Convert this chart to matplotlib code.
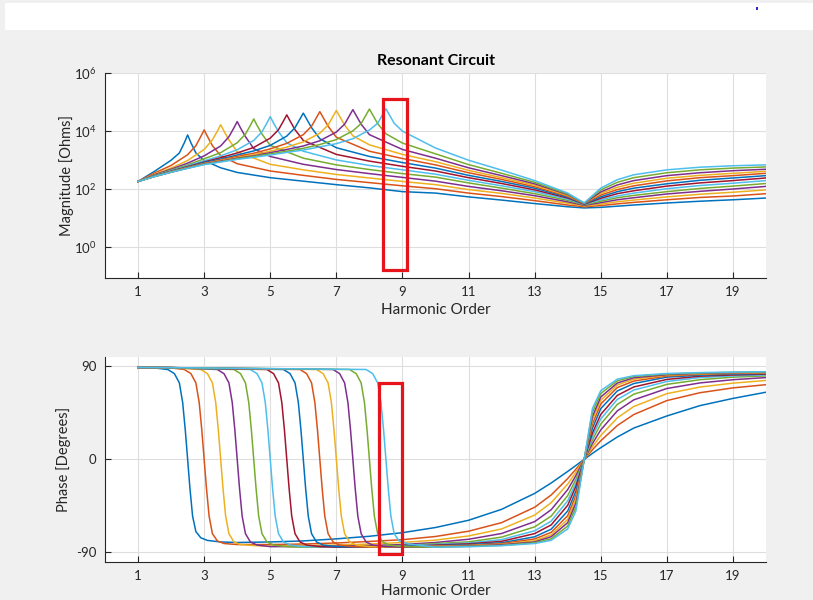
import matplotlib
matplotlib.use("Agg")
import matplotlib.pyplot as plt
from matplotlib.patches import Rectangle

plt.rcParams['font.family'] = ['Lato', 'DejaVu Sans']
plt.rcParams['mathtext.fontset'] = 'custom'
plt.rcParams['mathtext.rm'] = 'Lato'
plt.rcParams['mathtext.it'] = 'Lato:italic'
plt.rcParams['axes.unicode_minus'] = False

# MATLAB default colour order
COLORS = ['#0072BD', '#D95319', '#EDB120', '#7E2F8E', '#77AC30', '#4DBEEE', '#A2142F']

# parallel resonance order of each curve
RES_ORDERS = [2.5, 3.0, 3.5, 4.0, 4.5, 5.0, 5.5, 6.0, 6.5, 7.0, 7.5, 8.0, 8.5]

# ---- magnitude, log10(Ohms) ----
MAG_HEAD_X = [
    [1, 1.5, 2, 2.25, 2.4, 2.5, 2.6, 2.75, 3, 3.5, 4, 5, 6, 7, 8, 9],
    [1, 1.5, 2, 2.5, 2.75, 2.9, 3, 3.1, 3.25, 3.5, 4, 5, 6, 7, 8, 9],
    [1, 1.5, 2, 2.5, 3, 3.25, 3.4, 3.5, 3.6, 3.75, 4, 5, 6, 7, 8, 9],
    [1, 1.5, 2, 2.5, 3, 3.5, 3.75, 3.9, 4, 4.1, 4.25, 4.5, 5, 6, 7, 8, 9],
    [1, 1.5, 2, 2.5, 3, 3.5, 4, 4.25, 4.4, 4.5, 4.6, 4.75, 5, 6, 7, 8, 9],
    [1, 1.5, 2, 2.5, 3, 3.5, 4, 4.5, 4.75, 4.9, 5, 5.1, 5.25, 5.5, 6, 7, 8, 9],
    [1, 1.5, 2, 2.5, 3, 3.5, 4, 4.5, 5, 5.25, 5.4, 5.5, 5.6, 5.75, 6, 7, 8, 9],
    [1, 1.5, 2, 2.5, 3, 3.5, 4, 4.5, 5, 5.5, 5.75, 5.9, 6, 6.1, 6.25, 6.5, 7, 8, 9],
    [1, 1.5, 2, 2.5, 3, 3.5, 4, 4.5, 5, 5.5, 6, 6.25, 6.4, 6.5, 6.6, 6.75, 7, 8, 9],
    [1, 1.5, 2, 2.5, 3, 3.5, 4, 4.5, 5, 5.5, 6, 6.5, 6.75, 6.9, 7, 7.1, 7.25, 7.5, 8, 9],
    [1, 1.5, 2, 2.5, 3, 3.5, 4, 4.5, 5, 5.5, 6, 6.5, 7, 7.25, 7.4, 7.5, 7.6, 7.75, 8, 9],
    [1, 1.5, 2, 2.5, 3, 3.5, 4, 4.5, 5, 5.5, 6, 6.5, 7, 7.5, 7.75, 7.9, 8, 8.1, 8.25, 8.5, 9],
    [1, 1.5, 2, 2.5, 3, 3.5, 4, 4.5, 5, 5.5, 6, 6.5, 7, 7.5, 8, 8.25, 8.4, 8.5, 8.6, 8.75, 9],
]
MAG_HEAD = [
    [2.27, 2.62, 3.00, 3.25, 3.60, 3.87, 3.60, 3.25, 2.99, 2.74, 2.58, 2.40, 2.28, 2.16, 2.05, 1.92],
    [2.27, 2.56, 2.82, 3.19, 3.50, 3.82, 4.04, 3.82, 3.50, 3.16, 2.88, 2.63, 2.48, 2.34, 2.23, 2.12],
    [2.27, 2.52, 2.73, 2.99, 3.37, 3.70, 4.00, 4.22, 4.00, 3.70, 3.29, 2.86, 2.67, 2.51, 2.39, 2.27],
    [2.27, 2.50, 2.69, 2.90, 3.15, 3.49, 3.81, 4.11, 4.33, 4.11, 3.81, 3.40, 3.13, 2.86, 2.68, 2.54, 2.41],
    [2.27, 2.48, 2.66, 2.84, 3.05, 3.26, 3.60, 3.90, 4.20, 4.42, 4.20, 3.90, 3.51, 3.07, 2.84, 2.68, 2.54],
    [2.27, 2.47, 2.64, 2.81, 2.98, 3.15, 3.36, 3.68, 3.98, 4.28, 4.50, 4.28, 3.98, 3.60, 3.31, 3.01, 2.82, 2.67],
    [2.27, 2.46, 2.62, 2.78, 2.94, 3.09, 3.25, 3.44, 3.76, 4.05, 4.35, 4.56, 4.35, 4.05, 3.68, 3.20, 2.97, 2.79],
    [2.27, 2.46, 2.61, 2.76, 2.92, 3.04, 3.18, 3.32, 3.51, 3.83, 4.12, 4.42, 4.62, 4.42, 4.12, 3.74, 3.43, 3.13, 2.92],
    [2.27, 2.45, 2.60, 2.75, 2.89, 3.01, 3.13, 3.24, 3.39, 3.58, 3.88, 4.17, 4.47, 4.67, 4.47, 4.17, 3.79, 3.31, 3.06],
    [2.27, 2.45, 2.60, 2.74, 2.88, 2.99, 3.09, 3.19, 3.31, 3.45, 3.63, 3.93, 4.21, 4.51, 4.71, 4.51, 4.21, 3.84, 3.53, 3.20],
    [2.27, 2.44, 2.59, 2.73, 2.87, 2.97, 3.07, 3.15, 3.26, 3.37, 3.49, 3.67, 3.97, 4.24, 4.54, 4.74, 4.54, 4.24, 3.88, 3.37],
    [2.27, 2.44, 2.59, 2.73, 2.86, 2.95, 3.05, 3.13, 3.22, 3.31, 3.41, 3.54, 3.71, 4.01, 4.26, 4.56, 4.76, 4.56, 4.26, 3.91, 3.59],
    [2.27, 2.44, 2.59, 2.72, 2.85, 2.94, 3.03, 3.10, 3.18, 3.27, 3.35, 3.46, 3.57, 3.74, 4.04, 4.27, 4.57, 4.77, 4.57, 4.27, 4.00],
]
MAG_TAIL_X = [10, 11, 12, 13, 14, 14.5, 15, 15.5, 16, 17, 18, 19, 20]
MAG_TAIL = [
    [1.87, 1.74, 1.63, 1.51, 1.40, 1.36, 1.38, 1.42, 1.46, 1.53, 1.59, 1.64, 1.70],
    [2.02, 1.87, 1.75, 1.61, 1.46, 1.40, 1.44, 1.50, 1.55, 1.64, 1.72, 1.77, 1.85],
    [2.16, 1.99, 1.86, 1.70, 1.52, 1.43, 1.49, 1.57, 1.63, 1.74, 1.83, 1.90, 1.98],
    [2.28, 2.10, 1.95, 1.78, 1.57, 1.45, 1.54, 1.64, 1.71, 1.84, 1.93, 2.01, 2.10],
    [2.42, 2.22, 2.04, 1.85, 1.62, 1.47, 1.59, 1.71, 1.79, 1.92, 2.03, 2.11, 2.20],
    [2.52, 2.31, 2.12, 1.92, 1.66, 1.48, 1.64, 1.77, 1.87, 2.02, 2.13, 2.21, 2.30],
    [2.63, 2.40, 2.20, 1.98, 1.70, 1.49, 1.69, 1.85, 1.95, 2.11, 2.22, 2.30, 2.39],
    [2.73, 2.48, 2.27, 2.04, 1.73, 1.50, 1.74, 1.92, 2.04, 2.19, 2.31, 2.39, 2.47],
    [2.84, 2.57, 2.34, 2.09, 1.76, 1.51, 1.80, 1.99, 2.12, 2.29, 2.40, 2.47, 2.55],
    [2.95, 2.65, 2.40, 2.14, 1.79, 1.52, 1.86, 2.07, 2.21, 2.38, 2.48, 2.55, 2.62],
    [3.07, 2.74, 2.47, 2.19, 1.82, 1.52, 1.91, 2.15, 2.30, 2.47, 2.57, 2.64, 2.69],
    [3.22, 2.85, 2.55, 2.24, 1.84, 1.53, 1.98, 2.24, 2.40, 2.57, 2.67, 2.73, 2.77],
    [3.42, 3.00, 2.66, 2.30, 1.87, 1.53, 2.04, 2.33, 2.50, 2.67, 2.76, 2.81, 2.84],
]

# ---- phase, degrees ----
PH_HEAD_X = [
    [1, 1.5, 1.9, 2.1, 2.25, 2.35, 2.43, 2.5, 2.57, 2.65, 2.75, 2.9, 3.1, 3.5, 4, 5, 6, 7, 8, 9],
    [1, 2, 2.4, 2.6, 2.75, 2.85, 2.93, 3, 3.07, 3.15, 3.25, 3.4, 3.6, 4, 5, 6, 7, 8, 9],
    [1, 2, 2.9, 3.1, 3.25, 3.35, 3.43, 3.5, 3.57, 3.65, 3.75, 3.9, 4.1, 4.5, 5, 6, 7, 8, 9],
    [1, 2, 3.4, 3.6, 3.75, 3.85, 3.93, 4, 4.07, 4.15, 4.25, 4.4, 4.6, 5, 6, 7, 8, 9],
    [1, 2, 3.9, 4.1, 4.25, 4.35, 4.43, 4.5, 4.57, 4.65, 4.75, 4.9, 5.1, 5.5, 6, 7, 8, 9],
    [1, 2, 4.4, 4.6, 4.75, 4.85, 4.93, 5, 5.07, 5.15, 5.25, 5.4, 5.6, 6, 7, 8, 9],
    [1, 2, 4.9, 5.1, 5.25, 5.35, 5.43, 5.5, 5.57, 5.65, 5.75, 5.9, 6.1, 6.5, 7, 8, 9],
    [1, 2, 5.4, 5.6, 5.75, 5.85, 5.93, 6, 6.07, 6.15, 6.25, 6.4, 6.6, 7, 8, 9],
    [1, 2, 5.9, 6.1, 6.25, 6.35, 6.43, 6.5, 6.57, 6.65, 6.75, 6.9, 7.1, 7.5, 8, 9],
    [1, 2, 6.4, 6.6, 6.75, 6.85, 6.93, 7, 7.07, 7.15, 7.25, 7.4, 7.6, 8, 9],
    [1, 2, 6.9, 7.1, 7.25, 7.35, 7.43, 7.5, 7.57, 7.65, 7.75, 7.9, 8.1, 8.5, 9],
    [1, 2, 7.4, 7.6, 7.75, 7.85, 7.93, 8, 8.07, 8.15, 8.25, 8.4, 8.6, 9],
    [1, 2, 7.9, 8.1, 8.25, 8.35, 8.43, 8.5, 8.57, 8.65, 8.75, 8.9, 9.2],
]
PH_HEAD = [
    [89, 88.5, 87, 83, 74, 55, 28, 0, -28, -55, -70, -76, -78.5, -80, -80.5, -80, -79, -77, -74.5, -71],
    [89, 88.5, 87, 83, 74, 55, 28, 0, -28, -55, -72, -79, -81.5, -82.5, -82.5, -82, -81, -79.5, -77.8],
    [89, 88.7, 87, 83, 74, 55, 28, 0, -28, -55, -72, -80, -82.5, -83.5, -84, -83.5, -83, -82, -80.5],
    [89, 88.8, 87, 83, 74, 55, 28, 0, -28, -55, -72, -80, -83, -84.5, -84.5, -84, -83.5, -82.5],
    [89, 88.8, 87, 83, 74, 55, 28, 0, -28, -55, -72, -80, -83, -84.5, -85, -85, -84.5, -83.5],
    [89, 88.8, 87, 83, 74, 55, 28, 0, -28, -55, -72, -80, -83, -84.5, -85, -85, -84],
    [89, 88.8, 87, 83, 74, 55, 28, 0, -28, -55, -72, -80, -83, -84.5, -85, -85, -84.5],
    [89, 88.8, 87, 83, 74, 55, 28, 0, -28, -55, -72, -80, -83, -84.5, -85, -84.5],
    [89, 88.8, 87, 83, 74, 55, 28, 0, -28, -55, -72, -80, -83, -84.5, -85, -85],
    [89, 88.8, 87, 83, 74, 55, 28, 0, -28, -55, -72, -80, -83, -84.5, -85],
    [89, 88.8, 87, 83, 74, 55, 28, 0, -28, -55, -72, -80, -83, -84.5, -85],
    [89, 88.8, 87, 83, 74, 55, 28, 0, -28, -55, -72, -80, -83, -84.5],
    [89, 88.8, 87, 83, 74, 55, 28, 0, -28, -55, -72, -79, -82],
]
PH_TAIL_X = [10, 11, 12, 13, 13.5, 14, 14.25, 14.5, 14.75, 15, 15.5, 16, 17, 18, 19, 20]
PH_TAIL = [
    [-66.0, -59.0, -48.4, -33.0, -22.9, -11.7, -5.9, 0, 5.8, 11.3, 21.6, 30.3, 42.0, 52.0, 59.0, 65.0],
    [-74.7, -69.6, -61.3, -46.4, -34.5, -18.6, -9.5, 0, 9.3, 18.0, 32.7, 43.4, 56.9, 64.5, 69.2, 72.3],
    [-78.2, -74.2, -67.4, -54.0, -42.0, -23.9, -12.4, 0, 12.2, 23.1, 40.1, 51.2, 63.6, 70.0, 73.8, 76.4],
    [-80.5, -77.4, -71.8, -60.3, -48.8, -29.3, -15.6, 0, 15.3, 28.5, 46.9, 57.6, 68.6, 74.0, 77.1, 79.2],
    [-81.6, -79.9, -75.3, -65.4, -55.0, -35.1, -19.2, 0, 18.9, 34.1, 53.2, 63.1, 72.6, 77.1, 79.6, 80.8],
    [-82.4, -81.0, -77.7, -69.2, -59.8, -40.1, -22.7, 0, 22.3, 39.1, 58.0, 67.1, 75.4, 79.2, 80.8, 81.8],
    [-83.0, -81.8, -79.4, -71.9, -63.5, -44.5, -26.0, 0, 25.6, 43.5, 61.9, 70.1, 77.4, 80.5, 81.7, 82.5],
    [-83.6, -82.6, -80.8, -75.0, -67.6, -50.0, -30.6, 0, 30.2, 49.1, 66.2, 73.4, 79.6, 81.5, 82.5, 83.2],
    [-84.0, -83.2, -81.6, -77.1, -70.7, -54.5, -34.8, 0, 34.4, 53.6, 69.5, 75.8, 80.7, 82.3, 83.1, 83.6],
    [-84.3, -83.6, -82.3, -78.8, -73.1, -58.2, -38.7, 0, 38.2, 57.3, 72.0, 77.6, 81.5, 82.8, 83.6, 84.0],
    [-84.6, -84.0, -82.7, -80.0, -74.9, -61.3, -42.1, 0, 41.6, 60.4, 73.9, 79.0, 82.0, 83.3, 83.9, 84.3],
    [-84.9, -84.3, -83.3, -80.8, -76.9, -64.6, -46.2, 0, 45.7, 63.8, 76.0, 80.3, 82.6, 83.6, 84.2, 84.6],
    [-85.1, -84.6, -83.6, -81.5, -78.4, -67.3, -49.8, 0, 49.3, 66.5, 77.6, 81.0, 83.1, 84.0, 84.5, 84.8],
]

X_TICKS = [1, 3, 5, 7, 9, 11, 13, 15, 17, 19]
MAG_TICKS = [1e0, 1e2, 1e4, 1e6]
MAG_TICK_LABELS = ['$10^{0}$', '$10^{2}$', '$10^{4}$', '$10^{6}$']
PH_TICKS = [-90, 0, 90]

# highlight boxes: (x0, x1, y0, y1)
MAG_BOX = (8.41, 9.13, 10 ** -0.77, 10 ** 5.1)
PH_BOX = (8.29, 8.98, -91.6, 73.5)

AX_COLOR = '#262626'
GRID_COLOR = '#dedede'

fig = plt.figure(figsize=(8.13, 6.0), dpi=100, facecolor='#f0f0f0')
# screenshot header strip
fig.patches.append(Rectangle((5 / 813, 570 / 600), 808 / 813, 27 / 600,
                             transform=fig.transFigure, facecolor='white',
                             edgecolor='none'))
fig.patches.append(Rectangle((756 / 813, 590 / 600), 2 / 813, 3 / 600,
                             transform=fig.transFigure, facecolor='#2a2ad0',
                             edgecolor='none'))

ax1 = fig.add_axes([105 / 813, 1 - 278 / 600, 661 / 813, 205 / 600])
ax2 = fig.add_axes([105 / 813, 1 - 562 / 600, 661 / 813, 205 / 600])


def style_axes(ax):
    ax.set_facecolor('white')
    for s in ['top', 'right']:
        ax.spines[s].set_visible(False)
    for s in ['left', 'bottom']:
        ax.spines[s].set_color(AX_COLOR)
        ax.spines[s].set_linewidth(0.8)
    ax.tick_params(direction='in', length=4, width=0.8, colors=AX_COLOR,
                   labelsize=9.5, pad=6)
    ax.tick_params(which='minor', length=0)
    ax.grid(True, color=GRID_COLOR, linewidth=0.8)
    ax.set_axisbelow(True)
    ax.set_xlim(0, 20)
    ax.set_xticks(X_TICKS)


# magnitude panel
for i, p in enumerate(RES_ORDERS):
    xs = MAG_HEAD_X[i] + MAG_TAIL_X
    ys = [10 ** v for v in MAG_HEAD[i] + MAG_TAIL[i]]
    ax1.plot(xs, ys, color=COLORS[i % 7], linewidth=1.1)
ax1.set_yscale('log')
style_axes(ax1)
ax1.set_ylim(10 ** -1.05, 1e6)
ax1.set_yticks(MAG_TICKS)
ax1.set_yticklabels(MAG_TICK_LABELS)
ax1.set_xlabel('Harmonic Order', fontsize=11, color=AX_COLOR, labelpad=3)
ax1.set_ylabel('Magnitude [Ohms]', fontsize=10.5, color=AX_COLOR, labelpad=0)
ax1.set_title('Resonant Circuit', fontsize=11.5, fontweight='bold', color='black', pad=6)
ax1.add_patch(Rectangle((MAG_BOX[0], MAG_BOX[2]), MAG_BOX[1] - MAG_BOX[0],
                        MAG_BOX[3] - MAG_BOX[2], fill=False, edgecolor='#e8141c',
                        linewidth=2.3, clip_on=False, zorder=5))

# phase panel
for i, p in enumerate(RES_ORDERS):
    xs = PH_HEAD_X[i] + PH_TAIL_X
    ys = PH_HEAD[i] + PH_TAIL[i]
    ax2.plot(xs, ys, color=COLORS[i % 7], linewidth=1.1)
style_axes(ax2)
ax2.set_ylim(-99.4, 99.1)
ax2.set_yticks(PH_TICKS)
ax2.set_xlabel('Harmonic Order', fontsize=11, color=AX_COLOR, labelpad=1)
ax2.set_ylabel('Phase [Degrees]', fontsize=10.5, color=AX_COLOR, labelpad=4)
ax2.add_patch(Rectangle((PH_BOX[0], PH_BOX[2]), PH_BOX[1] - PH_BOX[0],
                        PH_BOX[3] - PH_BOX[2], fill=False, edgecolor='#e8141c',
                        linewidth=2.3, clip_on=False, zorder=5))

fig.savefig('out.png', dpi=100, facecolor=fig.get_facecolor())
